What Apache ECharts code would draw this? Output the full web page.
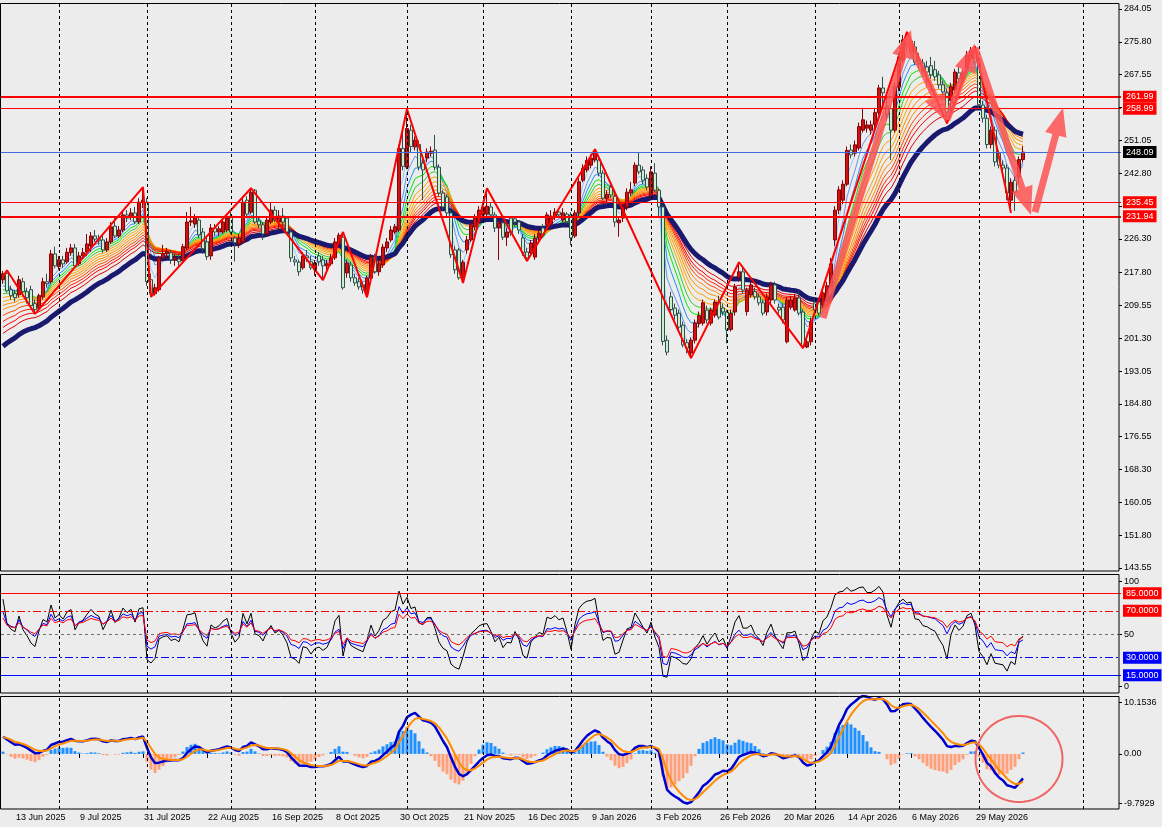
<!DOCTYPE html>
<html><head><meta charset="utf-8">
<script src="https://cdn.jsdelivr.net/npm/echarts@6/dist/echarts.min.js"></script>
<style>html,body{margin:0;padding:0;background:#ECECEC;}#c{width:1162px;height:827px;}</style>
</head><body><div id="c"></div>
<script>
// ---------- DATA ----------
const startDate = '2025-06-10';
const holidays = ['2025-06-19','2025-07-04','2025-09-01','2025-11-27','2025-12-25','2026-01-01','2026-01-19','2026-02-16','2026-04-03','2026-05-25','2026-06-19','2026-07-03'];
const totalSlots = 280;
const labelFirstIdx = 3, labelStep = 16;
const monthLineIdx = [14,36,57,78,101,120,142,162,181,203,224,244,270];
// [open, high, low, close]
const candles = [
[216.0,218.2,215.0,217.5],[217.6,218.4,212.8,213.2],[213.5,214.5,211.0,212.0],[212.5,213.5,210.5,211.5],[212.2,217.0,211.5,216.0],
[215.5,216.5,212.0,213.0],[213.0,214.0,210.0,211.5],[213.5,214.5,209.0,209.5],[210.0,211.0,207.4,208.5],[209.0,212.5,208.5,212.0],
[211.7,216.5,211.0,215.5],[215.5,217.5,214.0,215.0],[215.5,223.5,215.0,222.5],[222.5,224.3,219.0,219.5],[219.3,222.0,218.5,221.0],
[221.0,222.0,219.0,220.0],[220.5,224.0,220.0,222.9],[222.8,225.0,222.0,224.0],[224.0,225.0,219.0,219.5],[220.0,223.0,219.5,222.0],
[222.0,224.0,221.5,222.8],[223.0,227.5,222.0,225.0],[224.5,228.0,223.0,227.0],[227.0,228.5,225.5,226.2],[226.3,227.3,224.8,225.8],
[226.0,227.0,222.8,223.5],[223.5,226.5,223.0,225.5],[225.5,230.5,225.0,229.3],[229.5,231.5,226.5,227.0],[227.0,229.5,226.5,228.5],
[228.5,233.0,228.0,232.3],[232.3,233.5,230.5,231.5],[231.8,234.0,231.0,232.8],[232.8,234.3,230.0,230.6],[230.5,236.5,230.0,235.5],
[235.5,239.3,234.0,236.0],[235.5,236.5,214.5,215.5],[216.0,217.5,211.7,212.5],[212.5,215.0,212.0,214.0],[213.5,222.0,213.0,221.5],
[221.5,224.8,221.0,222.5],[222.5,224.0,221.5,223.0],[222.8,223.5,220.0,221.0],[221.0,222.5,219.5,221.5],[221.2,222.2,219.5,220.5],
[220.8,225.0,220.5,224.3],[224.0,233.0,223.5,230.5],[230.5,234.3,229.5,230.8],[230.0,232.5,229.0,231.5],[231.0,232.0,226.5,227.3],
[228.0,229.0,222.5,223.8],[225.5,226.5,221.0,221.8],[222.0,230.0,221.0,229.0],[229.0,230.0,227.0,228.0],[228.0,229.5,227.0,228.8],
[228.0,231.5,227.5,230.5],[228.5,232.5,228.0,231.5],[232.0,233.0,227.5,228.0],[226.5,227.0,220.6,225.3],[225.0,227.5,224.0,226.5],
[225.5,236.5,225.0,235.5],[236.0,237.0,231.5,232.5],[233.0,239.0,232.5,238.0],[238.5,238.8,230.0,230.5],[230.8,231.5,229.0,229.8],
[229.8,230.5,226.0,227.5],[227.5,232.0,227.0,231.0],[230.5,235.5,230.0,233.5],[233.5,234.5,230.5,231.0],[230.5,233.5,228.5,232.0],
[232.0,234.0,229.5,230.5],[231.5,232.0,227.5,228.0],[228.0,229.0,220.5,221.5],[221.0,222.0,219.5,220.5],[220.4,221.0,217.0,218.0],
[219.0,223.0,218.5,222.0],[222.0,223.5,220.5,221.5],[220.5,222.0,218.5,219.0],[218.5,221.0,217.0,220.2],[222.0,223.0,219.5,220.5],
[221.0,222.0,215.9,219.5],[219.5,221.0,218.5,220.0],[220.0,222.5,219.5,221.5],[221.5,226.5,221.0,225.5],[225.3,227.8,224.5,227.2],
[226.7,228.0,213.5,214.0],[217.7,221.0,216.5,220.2],[219.7,220.5,215.5,216.5],[216.5,217.5,214.5,215.2],[215.5,216.5,213.5,214.2],
[214.7,215.5,212.5,213.4],[212.6,217.0,211.6,216.4],[216.4,222.5,215.5,221.7],[221.7,222.5,217.5,218.0],[218.0,221.0,217.0,220.0],
[219.7,225.0,219.0,224.2],[224.0,226.5,223.0,225.5],[226.0,229.5,225.5,228.5],[228.0,230.0,227.5,229.3],[228.5,250.0,228.0,249.0],
[249.0,254.0,243.5,244.5],[244.3,258.9,243.8,254.0],[253.6,255.0,248.0,249.5],[249.4,252.0,248.5,251.1],[250.0,251.0,243.5,244.3],
[245.3,246.5,236.0,243.6],[246.6,249.0,245.5,248.1],[247.8,249.5,247.0,248.3],[248.6,252.4,243.5,244.3],[244.3,245.0,237.0,237.8],
[237.8,238.5,233.5,234.3],[236.8,237.5,232.0,232.8],[232.8,233.5,221.5,222.3],[223.5,224.5,217.5,218.5],[223.5,224.0,216.0,216.5],
[216.6,221.0,215.2,220.4],[223.5,227.0,222.5,226.0],[226.0,230.5,225.5,229.8],[229.3,232.5,228.5,231.5],[231.0,234.5,230.5,233.5],
[232.3,235.5,231.5,234.3],[232.5,239.0,232.0,234.5],[234.3,235.5,231.5,232.3],[232.3,233.0,228.0,229.0],[229.0,231.0,221.0,230.3],
[230.3,231.0,226.0,226.7],[226.7,229.0,224.5,228.0],[231.5,232.0,227.0,227.8],[231.3,232.0,229.5,230.5],[230.5,231.0,227.5,228.5],
[226.5,227.5,222.0,222.8],[223.0,224.0,220.7,221.5],[222.7,226.0,222.0,225.2],[221.7,227.5,221.0,226.5],[226.5,228.5,225.5,227.7],
[229.0,230.0,226.5,227.3],[229.8,233.0,229.0,232.3],[230.0,233.5,229.5,232.0],[232.0,234.0,231.0,233.0],[233.0,234.0,231.5,232.3],
[231.0,234.0,230.5,232.8],[232.5,233.0,230.0,230.6],[232.3,233.0,224.7,226.5],[227.0,233.5,226.5,232.8],[232.8,241.5,232.0,240.6],
[241.0,245.0,240.5,244.0],[243.6,247.0,243.0,246.0],[244.8,247.5,244.0,246.6],[246.1,248.8,245.5,248.1],[246.1,247.0,242.0,242.8],
[242.8,243.5,236.0,236.5],[236.5,238.5,235.5,237.5],[239.3,240.0,236.5,237.3],[237.0,237.5,229.3,230.5],[230.3,232.0,226.8,231.0],
[231.5,235.0,230.5,234.3],[234.3,239.0,233.5,238.0],[237.8,240.6,237.0,238.6],[240.3,245.5,239.5,244.8],[244.8,247.9,242.5,243.1],
[243.6,244.5,240.0,241.0],[241.5,242.5,238.5,239.3],[237.3,244.5,236.5,243.1],[242.8,245.3,238.0,238.5],[238.5,239.0,232.0,234.3],
[234.3,235.0,199.5,200.5],[200.8,202.0,197.0,197.8],[211.7,213.0,207.5,208.5],[208.9,210.0,206.0,207.1],[207.6,208.5,203.0,204.1],
[204.6,205.5,199.0,199.6],[200.2,201.0,197.5,198.8],[197.6,201.5,196.3,200.8],[200.8,206.0,200.0,205.1],[205.0,208.0,204.0,207.0],
[205.1,211.0,204.5,210.2],[208.4,209.5,205.0,205.9],[205.1,209.0,204.5,208.4],[207.1,211.0,206.5,210.4],[210.4,212.0,206.0,206.6],
[208.9,210.0,207.0,207.9],[207.9,208.5,200.0,203.4],[203.5,208.5,203.0,207.5],[207.9,215.0,207.0,214.2],[216.6,220.4,215.5,218.0],
[218.0,219.0,212.5,213.4],[208.0,214.0,207.0,213.4],[212.2,215.5,211.5,214.7],[213.0,214.0,211.0,211.7],[211.7,212.5,209.5,210.2],
[210.2,211.0,207.0,207.6],[207.9,212.5,207.0,211.7],[210.9,215.5,210.0,214.7],[214.7,215.5,210.0,210.9],[209.1,210.0,207.5,208.4],
[209.1,210.0,205.0,205.9],[200.4,211.5,200.0,210.9],[209.1,212.0,208.5,210.9],[208.4,212.5,208.0,211.4],[211.4,213.0,207.0,207.6],
[207.9,208.5,198.8,199.3],[199.1,201.5,198.8,200.4],[200.4,206.5,199.5,205.4],[210.2,211.0,207.5,208.4],[210.4,211.5,207.0,207.6],
[209.6,213.5,209.0,212.7],[211.0,215.5,210.5,214.5],[214.3,221.5,213.5,220.0],[226.0,234.5,224.5,233.5],[233.5,239.5,232.5,238.6],
[236.0,241.0,235.0,240.0],[240.0,249.5,239.5,248.5],[248.6,250.0,246.5,247.4],[247.8,251.0,247.0,249.9],[249.1,255.5,248.5,254.5],
[253.6,259.2,253.0,256.2],[254.1,256.0,253.0,254.9],[253.6,256.0,252.5,254.9],[255.0,259.0,254.0,258.0],[258.0,265.0,257.5,264.2],
[264.2,267.0,259.5,263.0],[259.5,262.0,256.0,257.5],[259.0,260.0,246.1,253.6],[253.6,265.5,253.0,264.5],[264.4,273.0,263.5,272.0],
[271.2,277.5,270.5,276.3],[276.0,278.3,273.5,275.0],[273.2,277.0,272.5,276.0],[274.5,276.0,270.0,270.7],[271.2,273.0,269.0,270.4],
[270.5,271.5,267.5,268.5],[269.5,271.0,264.5,268.2],[269.8,272.0,266.5,267.5],[268.8,271.0,266.0,267.0],[267.5,268.5,264.0,265.0],
[265.0,266.0,261.5,263.2],[263.0,264.0,255.3,258.0],[261.0,265.5,257.0,264.5],[263.7,269.0,263.0,268.2],[268.0,269.5,265.5,266.5],
[266.2,269.0,265.5,268.0],[269.2,273.5,268.5,272.5],[271.7,274.5,271.0,273.7],[273.7,274.7,270.0,270.7],[270.5,271.5,259.0,260.0],
[259.9,261.0,255.5,256.6],[256.6,257.5,249.0,250.0],[250.0,254.5,249.0,253.6],[253.6,254.5,244.5,245.6],[247.8,248.5,244.0,244.8],
[244.8,246.0,242.5,244.1],[244.1,245.0,236.0,237.8],[236.0,241.5,232.8,240.5],[241.0,242.0,233.3,238.0],[241.8,247.0,240.0,246.2],
[246.2,249.6,245.5,248.09]
];
const priceTicks = [143.55,151.80,160.05,168.30,176.55,184.80,193.05,201.30,209.55,217.80,226.30,234.55,242.80,251.05,259.30,267.55,275.80,284.05];
const priceLevels = [261.99, 258.99, 235.45, 231.94];
const priceLevelWidths = [2, 1, 1, 2];
const lastPrice = 248.09;
const zigzag = [[0,216.8],[1,218.4],[8,207.4],[35,239.3],[37,211.7],[62,239.0],[80,215.9],[85,228.0],[91,211.6],[101,258.9],[115,215.2],[121,239.0],[131,220.7],[148,248.8],[172,196.3],[184,220.4],[200,198.8],[226,278.3],[236,255.3],[243,274.7],[252,232.8]];
// arrows: [fromIdx, fromPrice, toIdx, toPrice]
const arrows = [[205,206.4,227,278.8],[226,276.8,236,255.6],[236,256.2,243,275.3],[243,274.3,257,232.3],[258,233.0,265,259.2]];
// moving-average ribbon
const emaPeriods = [3,5,7,9,11,13,15,17,19,21,23,25,28];
const emaColors = ['#87CEFA','#6495ED','#1E90FF','#00EE00','#32CD32','#FFA500','#FFA500','#FF8C00','#FF8C00','#FF4500','#FF2400','#FF0000','#E00000'];
const emaSeeds = [216.5,215.5,214.5,213.5,212.5,211.5,210.5,209.5,208.5,207.0,205.5,204.0,202.5];
const navyPeriod = 34, navySeed = 199.3;
// oscillator panel
const rsiPeriods = [7, 14, 21];
const rsiColors = ['#000000', '#0000FF', '#FF0000'];
const rsiSeeds = [80, 69, 64];
const rsiSeedMagnitude = 2.0;
const rsiLevels = [85, 70, 50, 30, 15];
const rsiTickPos = [94.9, 50, 5.27];
const rsiTickText = ['100', '50', '0'];
// MACD panel
const macdFast = 8, macdSlow = 17, macdSignal = 4, osmaPeriod = 9;
const macdSeedFast = 214.5, macdSeedSlow = 211.1, macdSeedSignal = 3.3, osmaSeedBase = 2.9;
const macdTicks = [10.1536, 0, -9.7929];
const macdTickText = ['10.1536', '0.00', '-9.7929'];
const ellipseCenter = [254, -1.0];

// ---------- helpers ----------
const MON = ['Jan','Feb','Mar','Apr','May','Jun','Jul','Aug','Sep','Oct','Nov','Dec'];
function tradingDays(start, n, hol) {
  const out = []; const d = new Date(start + 'T00:00:00Z');
  while (out.length < n) {
    const wd = d.getUTCDay(); const iso = d.toISOString().slice(0, 10);
    if (wd !== 0 && wd !== 6 && hol.indexOf(iso) < 0) out.push(iso);
    d.setUTCDate(d.getUTCDate() + 1);
  }
  return out;
}
const dates = tradingDays(startDate, totalSlots, holidays);
const fmtDate = s => { const p = s.split('-'); return (+p[2]) + ' ' + MON[+p[1] - 1] + ' ' + p[0]; };
const closes = candles.map(c => c[3]);
const lastIdx = candles.length - 1;
function ema(vals, n, seed) { const a = 2 / (n + 1); let e = seed; return vals.map((v, i) => { if (i > 0) e += a * (v - e); return +e.toFixed(3); }); }
function rsi(vals, n, seed, mag) {
  let ag = mag * seed / 100, al = mag * (1 - seed / 100);
  return vals.map((v, i) => {
    if (i === 0) return seed;
    const ch = v - vals[i - 1];
    ag = (ag * (n - 1) + Math.max(ch, 0)) / n; al = (al * (n - 1) + Math.max(-ch, 0)) / n;
    return +(100 * ag / (ag + al)).toFixed(2);
  });
}
const eFast = ema(closes, macdFast, macdSeedFast), eSlow = ema(closes, macdSlow, macdSeedSlow);
const macd = eFast.map((v, i) => +(v - eSlow[i]).toFixed(3));
const signal = ema(macd, macdSignal, macdSeedSignal);
const osma = macd.map((v, i) => {
  let s = 0; for (let k = i - osmaPeriod + 1; k <= i; k++) s += (k >= 0 ? macd[k] : osmaSeedBase);
  return +(v - s / osmaPeriod).toFixed(3);
});
const ribbons = emaPeriods.map((p, k) => ema(closes, p, emaSeeds[k]));
const navy = ema(closes, navyPeriod, navySeed);
const rsis = rsiPeriods.map((p, k) => rsi(closes, p, rsiSeeds[k], rsiSeedMagnitude));

// ---------- chart ----------
const FONT = 'Liberation Sans';
const chart = echarts.init(document.getElementById('c'), null, { width: 1162, height: 827 });
const labelInterval = i => i >= labelFirstIdx && i <= lastIdx && (i - labelFirstIdx) % labelStep === 0;
const gridsPx = [{ top: 3, height: 568 }, { top: 574, height: 119 }, { top: 696, height: 113 }];
const monthLines = {
  silent: true, symbol: 'none', label: { show: false },
  lineStyle: { color: '#000', type: [3, 3], width: 1 },
  data: monthLineIdx.map(i => ({ xAxis: i }))
};
const tag = (bg) => ({ show: true, position: 'end', distance: 2, color: '#fff', backgroundColor: bg, padding: [2, 3, 1, 3], fontSize: 9, fontFamily: FONT });

const series = [];
series.push({ type: 'line', xAxisIndex: 0, yAxisIndex: 0, data: [], z: 1, markLine: monthLines });
ribbons.forEach((r, k) => series.push({ type: 'line', xAxisIndex: 0, yAxisIndex: 0, data: r, showSymbol: false, silent: true, z: 2,
  lineStyle: { color: emaColors[k], width: 1 } }));
series.push({ type: 'line', xAxisIndex: 0, yAxisIndex: 0, data: navy, showSymbol: false, silent: true, z: 2,
  lineStyle: { color: '#191970', width: 5 } });
series.push({ type: 'candlestick', xAxisIndex: 0, yAxisIndex: 0, z: 3, barWidth: 3,
  data: candles.map(c => [c[0], c[3], c[2], c[1]]),
  itemStyle: { color: '#CC1414', color0: '#CDEFCD', borderColor: '#8B0000', borderColor0: '#2F4F4F', borderWidth: 1 } });
series.push({ type: 'line', xAxisIndex: 0, yAxisIndex: 0, data: zigzag, showSymbol: false, silent: true, z: 4,
  lineStyle: { color: '#FF0000', width: 2 },
  markLine: { silent: true, symbol: 'none',
    data: priceLevels.map((v, k) => ({ yAxis: v, lineStyle: { color: '#FF0000', width: priceLevelWidths[k], type: 'solid' }, label: Object.assign(tag('#FF0000'), { formatter: v.toFixed(2) }) }))
      .concat([{ yAxis: lastPrice, lineStyle: { color: '#4169E1', width: 1, type: 'solid' }, label: Object.assign(tag('#000000'), { formatter: lastPrice.toFixed(2) }) }]) } });
series.push({ type: 'custom', xAxisIndex: 0, yAxisIndex: 0, z: 6, silent: true, data: arrows, encode: { x: [0, 2], y: [1, 3] },
  renderItem: (params, api) => {
    const p1 = api.coord([api.value(0), api.value(1)]), p2 = api.coord([api.value(2), api.value(3)]);
    const dx = p2[0] - p1[0], dy = p2[1] - p1[1], L = Math.hypot(dx, dy), ux = dx / L, uy = dy / L, nx = -uy, ny = ux;
    const hl = 28, hw = 11, sw = 3.5, bx = p2[0] - ux * hl, by = p2[1] - uy * hl;
    const pts = [[p1[0] + nx * sw, p1[1] + ny * sw], [bx + nx * sw, by + ny * sw], [bx + nx * hw, by + ny * hw], [p2[0], p2[1]],
      [bx - nx * hw, by - ny * hw], [bx - nx * sw, by - ny * sw], [p1[0] - nx * sw, p1[1] - ny * sw]];
    return { type: 'polygon', shape: { points: pts }, style: { fill: 'rgba(255,82,82,0.85)' } };
  } });
const rsiLevelStyle = { 85: ['#FF0000', 'solid', true], 70: ['#FF0000', [8, 3, 2, 3], true], 50: ['#707070', [3, 3], false], 30: ['#0000FF', [8, 3, 2, 3], true], 15: ['#0000FF', 'solid', true] };
series.push({ type: 'line', xAxisIndex: 1, yAxisIndex: 1, data: [], z: 1,
  markLine: { silent: true, symbol: 'none', data: monthLines.data.map(d => ({ xAxis: d.xAxis, lineStyle: { color: '#000', type: [3, 3], width: 1 }, label: { show: false } }))
    .concat(rsiLevels.map(v => { const s = rsiLevelStyle[v]; return { yAxis: v, lineStyle: { color: s[0], type: s[1], width: 1 },
      label: s[2] ? Object.assign(tag(s[0]), { formatter: v.toFixed(4) }) : { show: false } }; })) } });
rsis.forEach((r, k) => series.push({ type: 'line', xAxisIndex: 1, yAxisIndex: 1, data: r, showSymbol: false, silent: true, z: 3,
  lineStyle: { color: rsiColors[k], width: 1 } }));
series.push({ type: 'bar', xAxisIndex: 2, yAxisIndex: 2, z: 2, barWidth: 3, silent: true,
  data: osma.map(v => ({ value: v, itemStyle: { color: v >= 0 ? '#1E90FF' : '#FFA07A' } })), markLine: monthLines });
series.push({ type: 'line', xAxisIndex: 2, yAxisIndex: 2, data: macd, showSymbol: false, silent: true, z: 3, lineStyle: { color: '#0000CD', width: 2.5 } });
series.push({ type: 'line', xAxisIndex: 2, yAxisIndex: 2, data: signal, showSymbol: false, silent: true, z: 4, lineStyle: { color: '#FF8C00', width: 2 } });
series.push({ type: 'custom', xAxisIndex: 2, yAxisIndex: 2, z: 6, silent: true, data: [ellipseCenter],
  renderItem: (params, api) => {
    const c = api.coord([api.value(0), api.value(1)]); const pts = [];
    for (let k = 0; k <= 90; k++) { const t = k / 90 * Math.PI * 2; pts.push([c[0] + 43.5 * Math.cos(t), c[1] + 43 * Math.sin(t)]); }
    return { type: 'polyline', shape: { points: pts }, style: { stroke: '#F06464', lineWidth: 2, fill: null } };
  } });

const yBase = { type: 'value', position: 'right', offset: -2, scale: true, splitLine: { show: false }, axisLine: { show: false },
  axisTick: { show: true, length: 3, lineStyle: { color: '#000' } } };
const lbl = { color: '#000', fontSize: 9, fontFamily: FONT, margin: 5 };
const nearestText = (pos, txt) => v => { let b = 0; pos.forEach((p, k) => { if (Math.abs(p - v) < Math.abs(pos[b] - v)) b = k; }); return txt[b]; };
const option = {
  animation: false,
  backgroundColor: '#ECECEC',
  grid: gridsPx.map(g => ({ left: 1, width: 1120, top: g.top, height: g.height, show: false })),
  xAxis: [0, 1, 2].map(k => ({
    type: 'category', gridIndex: k, data: dates, boundaryGap: true,
    axisLine: { show: false }, splitLine: { show: false },
    axisTick: { show: k === 2, alignWithLabel: true, interval: labelInterval, length: 4, lineStyle: { color: '#000' } },
    axisLabel: { show: k === 2, interval: labelInterval, formatter: v => fmtDate(v), align: 'left', margin: 4, color: '#000', fontSize: 9, fontFamily: FONT, padding: [0, 0, 0, 1] }
  })),
  yAxis: [
    Object.assign({}, yBase, { gridIndex: 0, min: 142.796, max: 285.558,
      axisTick: Object.assign({}, yBase.axisTick, { customValues: priceTicks }),
      axisLabel: Object.assign({}, lbl, { customValues: priceTicks, formatter: v => v.toFixed(2) }) }),
    Object.assign({}, yBase, { gridIndex: 1, min: -0.11, max: 101.48,
      axisTick: Object.assign({}, yBase.axisTick, { customValues: rsiTickPos }),
      axisLabel: Object.assign({}, lbl, { customValues: rsiTickPos, formatter: nearestText(rsiTickPos, rsiTickText) }) }),
    Object.assign({}, yBase, { gridIndex: 2, min: -10.923, max: 11.482,
      axisTick: Object.assign({}, yBase.axisTick, { customValues: macdTicks }),
      axisLabel: Object.assign({}, lbl, { customValues: macdTicks, formatter: nearestText(macdTicks, macdTickText) }) })
  ],
  graphic: gridsPx.map(g => ({ type: 'rect', silent: true, z: 100,
    shape: { x: 0.5, y: g.top + 0.5, width: 1118.5, height: g.height - 0.5 },
    style: { fill: null, stroke: '#000', lineWidth: 1 } })),
  series: series
};
chart.setOption(option);
</script>
</body></html>
